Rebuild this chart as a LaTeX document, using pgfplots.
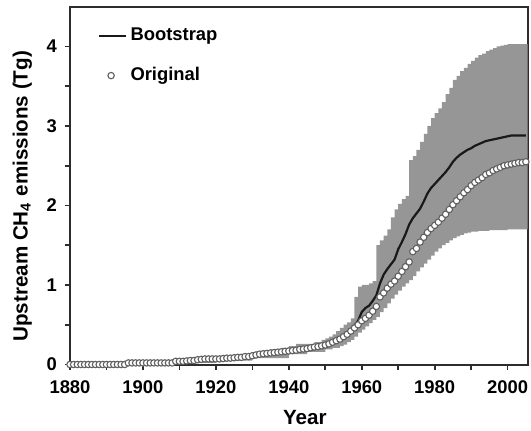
\documentclass[border=0pt]{standalone}
\usepackage{fontspec}
\setmainfont{Liberation Sans}
\usepackage{pgfplots}
\pgfplotsset{compat=1.18}
\usepgfplotslibrary{fillbetween}
\definecolor{bandgray}{RGB}{150,150,150}
\definecolor{axgray}{RGB}{45,45,45}
\definecolor{mkedge}{RGB}{95,95,95}
\pgfplotsset{
  lineimg/.style={legend image code/.code={\draw[##1] (0pt,0pt) -- (13.5pt,0pt);}},
  markimg/.style={legend image code/.code={\path[draw=none,fill=none] (0pt,0pt) -- (13.5pt,0pt);
    \draw[##1, only marks] plot coordinates {(6pt,0pt)};}},
}
\begin{document}
\begin{tikzpicture}
\begin{axis}[
  scale only axis, width=228.85pt, height=178.9pt,
  xmin=1880, xmax=2005.5, ymin=0, ymax=4.5,
  xtick={1880,1890,...,2000},
  xticklabels={1880,,1900,,1920,,1940,,1960,,1980,,2000},
  ytick={0,0.5,...,4},
  yticklabels={0,,1,,2,,3,,4},
  xtick pos=bottom, ytick pos=left,
  tick align=outside, major tick length=2.5pt,
  tick style={line width=0.8pt, color=axgray},
  axis line style={line width=1pt, color=axgray},
  /pgf/number format/assume math mode=true,
  ticklabel style={font=\fontsize{9.2}{11}\selectfont\bfseries},
  xticklabel style={yshift=-2pt},
  yticklabel style={xshift=-0.5pt},
  label style={font=\fontsize{10.3}{12}\selectfont\bfseries},
  xlabel={Year},
  ylabel={Upstream CH\textsubscript{4} emissions (Tg)},
  xlabel style={at={(axis description cs:0.513,-0.148)}, anchor=center},
  ylabel style={at={(axis description cs:-0.104,0.47)}, anchor=center},
  legend style={at={(axis description cs:0.0612,0.940)}, anchor=north west,
    draw=none, fill=none, inner sep=0pt, outer sep=0pt,
    row sep=11.8pt, column sep=1.65pt,
    font=\fontsize{9.2}{11}\selectfont\bfseries,
    nodes={inner sep=0pt}},
  legend cell align=left,
]
\addplot[draw=none, name path=up, const plot, forget plot] coordinates {
(1880,0.02)(1895,0.02)(1896,0.04)(1909,0.05)(1910,0.07)(1915,0.08)(1920,0.10)(1925,0.12)
(1930,0.15)(1932,0.17)(1935,0.19)(1938,0.21)(1940,0.23)(1942,0.26)(1945,0.26)(1947,0.28)
(1949,0.31)(1950,0.33)(1951,0.35)(1952,0.38)(1953,0.42)(1954,0.46)(1955,0.50)(1956,0.53)
(1957,0.58)(1958,0.85)(1959,0.98)(1960,1.00)(1961,1.00)(1962,1.02)(1963,1.05)(1964,1.50)
(1965,1.56)(1966,1.62)(1967,1.70)(1968,1.85)(1969,1.95)(1970,2.02)(1971,2.08)(1972,2.12)
(1973,2.57)(1974,2.62)(1975,2.70)(1976,2.80)(1977,2.90)(1978,3.00)(1979,3.10)(1980,3.16)
(1981,3.22)(1982,3.30)(1983,3.40)(1984,3.48)(1985,3.58)(1986,3.63)(1987,3.69)(1988,3.73)
(1989,3.78)(1990,3.82)(1991,3.86)(1992,3.89)(1993,3.91)(1994,3.94)(1995,3.96)(1996,3.98)
(1997,4.00)(1998,4.01)(1999,4.02)(2000,4.03)(2005.5,4.03)};
\addplot[draw=none, name path=lo, const plot, forget plot] coordinates {
(1880,-0.01)(1896,0.005)(1910,0.02)(1920,0.05)(1930,0.08)(1940,0.13)(1945,0.16)(1950,0.19)
(1952,0.21)(1954,0.23)(1955,0.25)(1956,0.28)(1957,0.31)(1958,0.35)(1959,0.40)(1960,0.44)
(1961,0.48)(1962,0.52)(1963,0.56)(1964,0.60)(1965,0.66)(1966,0.71)(1967,0.77)(1968,0.83)
(1969,0.88)(1970,0.93)(1971,0.98)(1972,1.02)(1973,1.06)(1974,1.11)(1975,1.17)(1976,1.22)
(1977,1.27)(1978,1.32)(1979,1.37)(1980,1.42)(1981,1.46)(1982,1.50)(1983,1.53)(1984,1.56)
(1985,1.59)(1986,1.61)(1987,1.63)(1988,1.65)(1989,1.66)(1990,1.67)(1992,1.68)(1995,1.69)
(2000,1.70)(2005.5,1.70)};
\addplot[bandgray, forget plot] fill between[of=up and lo];
\addplot[color=black!90, line width=1.1pt, lineimg] coordinates {
(1880,0)(1895,0)(1896,0.02)(1909,0.02)(1910,0.04)(1920,0.075)(1930,0.115)(1940,0.175)
(1945,0.205)(1950,0.25)(1952,0.285)(1954,0.33)(1955,0.36)(1956,0.40)(1957,0.44)(1958,0.49)
(1959,0.55)(1960,0.66)(1961,0.71)(1962,0.74)(1963,0.80)(1964,0.87)(1965,1.02)(1966,1.13)
(1967,1.20)(1968,1.26)(1969,1.32)(1970,1.45)(1971,1.54)(1972,1.64)(1973,1.76)(1974,1.84)
(1975,1.90)(1976,1.96)(1977,2.05)(1978,2.15)(1979,2.22)(1980,2.27)(1981,2.32)(1982,2.37)
(1983,2.42)(1984,2.48)(1985,2.55)(1986,2.60)(1987,2.64)(1988,2.67)(1989,2.70)(1990,2.72)
(1991,2.75)(1992,2.77)(1993,2.79)(1994,2.81)(1995,2.82)(1996,2.83)(1997,2.84)(1998,2.85)
(1999,2.86)(2000,2.87)(2001,2.88)(2002,2.88)(2005,2.88)};
\addlegendentry{Bootstrap}
\addplot[only marks, mark=*, mark size=1.6pt,
  mark options={fill=white, draw=mkedge, line width=0.55pt}, markimg] coordinates {
(1880,0)(1881,0)(1882,0)(1883,0)(1884,0)(1885,0)(1886,0)(1887,0)(1888,0)(1889,0)
(1890,0)(1891,0)(1892,0)(1893,0)(1894,0)(1895,0)(1896,0.02)(1897,0.02)(1898,0.02)(1899,0.02)
(1900,0.02)(1901,0.02)(1902,0.02)(1903,0.02)(1904,0.02)(1905,0.02)(1906,0.02)(1907,0.02)
(1908,0.02)(1909,0.04)(1910,0.04)(1911,0.04)(1912,0.045)(1913,0.05)(1914,0.05)(1915,0.06)
(1916,0.065)(1917,0.07)(1918,0.07)(1919,0.07)(1920,0.07)(1921,0.07)(1922,0.075)(1923,0.08)
(1924,0.08)(1925,0.085)(1926,0.09)(1927,0.09)(1928,0.10)(1929,0.10)(1930,0.11)(1931,0.12)
(1932,0.13)(1933,0.135)(1934,0.14)(1935,0.145)(1936,0.15)(1937,0.155)(1938,0.16)(1939,0.165)
(1940,0.17)(1941,0.175)(1942,0.18)(1943,0.19)(1944,0.195)(1945,0.20)(1946,0.21)(1947,0.22)
(1948,0.225)(1949,0.235)(1950,0.245)(1951,0.26)(1952,0.28)(1953,0.30)(1954,0.32)(1955,0.35)
(1956,0.38)(1957,0.42)(1958,0.46)(1959,0.50)(1960,0.55)(1961,0.58)(1962,0.62)(1963,0.67)
(1964,0.73)(1965,0.85)(1966,0.90)(1967,0.96)(1968,1.01)(1969,1.05)(1970,1.11)(1971,1.17)
(1972,1.23)(1973,1.29)(1974,1.42)(1975,1.46)(1976,1.54)(1977,1.60)(1978,1.66)(1979,1.71)
(1980,1.75)(1981,1.79)(1982,1.84)(1983,1.89)(1984,1.95)(1985,2.01)(1986,2.06)(1987,2.11)
(1988,2.16)(1989,2.20)(1990,2.25)(1991,2.29)(1992,2.32)(1993,2.35)(1994,2.39)(1995,2.41)
(1996,2.44)(1997,2.46)(1998,2.48)(1999,2.50)(2000,2.51)(2001,2.52)(2002,2.53)(2003,2.54)
(2004,2.54)(2005,2.55)};
\addlegendentry{Original}
\end{axis}
\pgfresetboundingbox
\useasboundingbox (-35pt,-32.75pt) rectangle (230.5pt,182.25pt);
\end{tikzpicture}
\end{document}
